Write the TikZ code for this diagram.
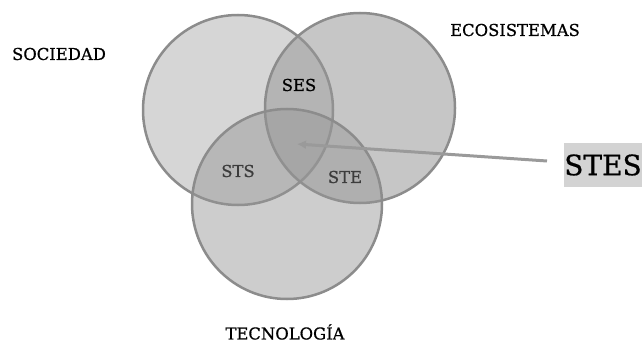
\documentclass[tikz,border=0pt]{standalone}
\usepackage{fontspec}
\setmainfont{DejaVu Serif}[AutoFakeBold=0.7]
\usetikzlibrary{arrows.meta}
\definecolor{ringline}{HTML}{8C8C8C}
\definecolor{ringfill}{HTML}{969696}
\definecolor{arrowgray}{HTML}{9A9A9A}
\definecolor{boxgray}{HTML}{D3D3D3}
\definecolor{innertext}{HTML}{3C3C3C}
\begin{document}
\begin{tikzpicture}[x=1pt,y=-1pt,
  ring/.style={circle, minimum size=190pt, inner sep=0pt,
    draw=ringline, line width=2.5pt, fill=ringfill, fill opacity=#1},
  label/.style={inner sep=0pt, font=\fontsize{16.4}{20}\selectfont\bfseries},
  pointer/.style={draw=arrowgray, line width=3pt,
    -{Latex[length=9pt,width=9pt]}}
]
  \useasboundingbox (0,0) rectangle (642,342);

  % the three overlapping sets
  \node[ring=0.39] (soc) at (238,110) {};
  \node[ring=0.54] (eco) at (360,108) {};
  \node[ring=0.48] (tec) at (287,204) {};

  % set names
  \node[label] (lsoc) at (59,54) {SOCIEDAD};
  \node[label] (leco) at (515,30) {ECOSISTEMAS};
  \node[label] (ltec) at (285,332) {TECNOLOGÍA};

  % pairwise intersections
  \node[label] (ses) at (299,85) {SES};
  \node[label, text=innertext] (sts) at (238,171) {STS};
  \node[label, text=innertext] (ste) at (345,177) {STE};

  % triple intersection callout
  \node[fill=boxgray, minimum width=78pt, minimum height=44pt, inner sep=0pt,
        font=\fontsize{28}{32}\selectfont\bfseries] (stes) at (603,165) {STES};
  \coordinate (tail) at (547,161);
  \coordinate (core) at (297,144);
  \draw[pointer] (tail) -- (core);
\end{tikzpicture}
\end{document}
